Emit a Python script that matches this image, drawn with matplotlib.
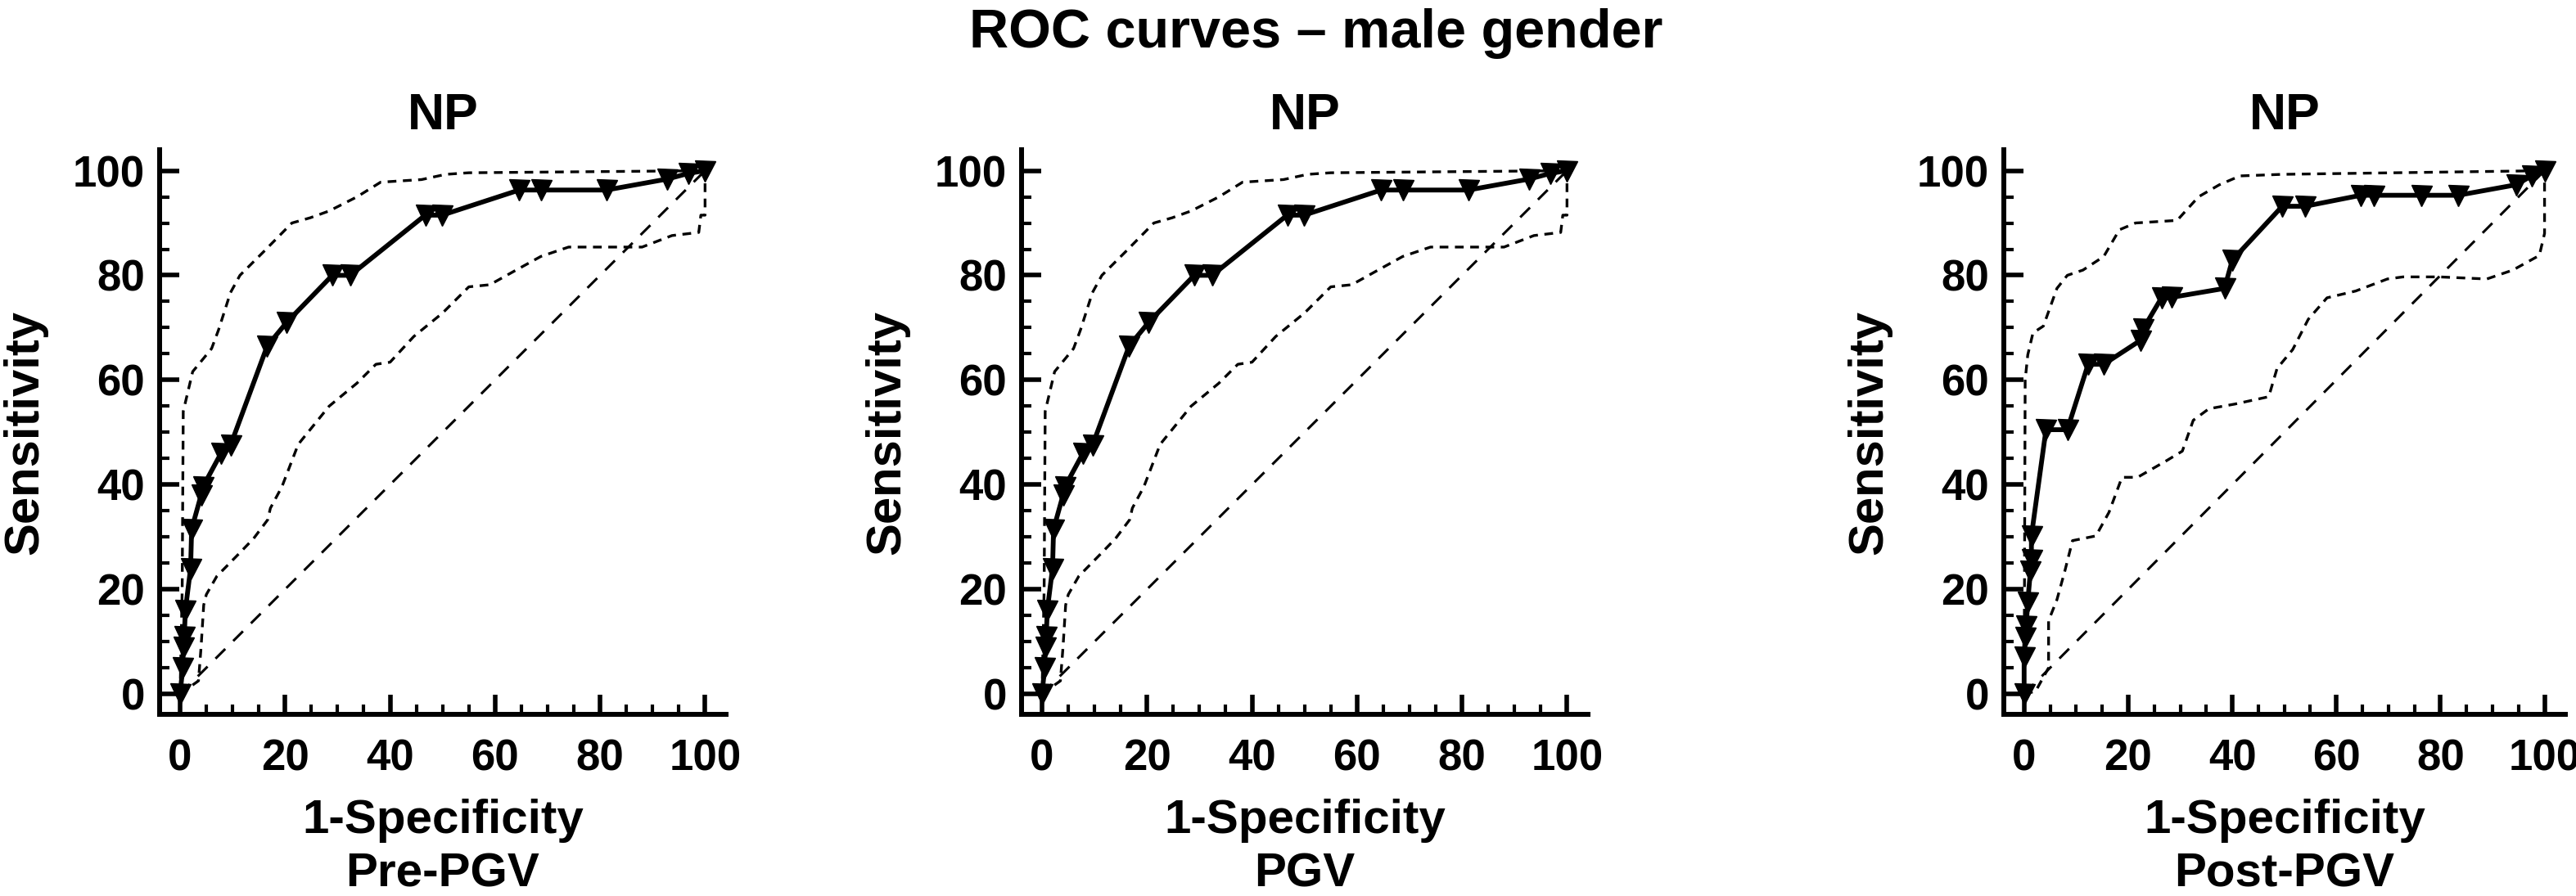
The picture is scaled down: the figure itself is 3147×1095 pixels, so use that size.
import matplotlib
matplotlib.use('Agg')
import matplotlib.pyplot as plt
from matplotlib.ticker import MultipleLocator

plt.rcParams['font.family'] = ['Liberation Sans', 'DejaVu Sans']
plt.rcParams['font.weight'] = 'bold'

# 1. 数据
# Pre-PGV 和 PGV 两个面板曲线相同
roc1_x = [0, 0.5, 0.6, 0.8, 1, 2, 2.2, 4, 4.3, 7.8, 9.6, 16.6, 20.3, 29, 32.4,
          46.7, 49.9, 64.6, 68.7, 81.2, 92.8, 96.9, 100]
roc1_y = [0, 5, 9, 11, 16, 24, 31.5, 38, 39.5, 46, 47.5, 66.5, 71, 80, 80,
          91.5, 91.5, 96.3, 96.3, 96.3, 98.4, 99.5, 100]
up1_x = [0, 0.4, 0.6, 2.4, 6, 7.3, 9.6, 11.4, 15.9, 21.3, 24.8, 28.4, 33.7,
         38.2, 46, 50.6, 55, 100]
up1_y = [0, 20, 54, 61.6, 66, 69.5, 76.7, 80, 84.5, 90, 91, 92.3, 95,
         97.8, 98.3, 99.3, 99.6, 100]
lo1_x = [0, 3.5, 4, 4.5, 5, 7, 11.4, 14, 16.7, 17.2, 19.4, 22.5, 28.4, 33.7,
         37.3, 40, 44.5, 50, 55, 59, 64, 68.7, 74, 88, 93.7, 98.8, 99.2, 100, 100]
lo1_y = [0, 2.5, 9, 17, 19, 22.5, 27, 29.7, 33.3, 35.5, 39.6, 47.7, 55, 59.4,
         63, 63.4, 68.3, 72.8, 77.8, 78.2, 81, 83.6, 85.4, 85.4, 87.6, 88.2, 91.5, 91.5, 100]

# Post-PGV
roc3_x = [0, 0, 0.2, 0.4, 0.7, 1.2, 1.4, 1.4, 4.2, 8.3, 12.3, 15.3, 22.4, 22.9,
          26.4, 28.4, 38.5, 40, 49.6, 54, 64.7, 67.2, 76.3, 83.4, 94.5, 97.5, 100]
roc3_y = [0, 7, 10.8, 13, 17.6, 23.4, 25.7, 30.2, 50.5, 50.5, 63, 63, 67.6, 69.8,
          75.7, 75.8, 77.5, 82.9, 93.2, 93.2, 95.3, 95.3, 95.3, 95.3, 97.3, 99, 100]
up3_x = [0, 0.2, 0.7, 1.7, 3.7, 6.3, 8.3, 11.3, 15.3, 18.3, 21.4, 29.4, 33.5,
         37.5, 41.5, 49.6, 100]
up3_y = [0, 60, 64.8, 69, 70.3, 77.5, 80, 81, 83.6, 88.7, 90, 90.5, 95,
         97.3, 99, 99.3, 100]
lo3_x = [0, 2.2, 4.7, 4.7, 6.3, 7.8, 9.3, 13.8, 16.3, 18.8, 21.8, 27.4, 30.4,
         32.5, 35.5, 40.5, 47, 48.6, 51.6, 54.6, 58.2, 63.7, 69.8, 72.8, 79.8,
         88.9, 93.9, 99, 100, 100]
lo3_y = [0, 0.5, 5, 14, 18, 23.4, 29.3, 30.2, 34.7, 41.4, 41.4, 44.6, 46.4,
         52.3, 54.5, 55.4, 56.8, 62.2, 65.8, 71.6, 75.7, 77, 79.3, 79.7, 79.7,
         79.3, 81, 83.8, 88, 100]

diag = [0, 100]
panel_names = ['Pre-PGV', 'PGV', 'Post-PGV']
panel_title = 'NP'
sup_title = 'ROC curves \u2013 male gender'

panels = [
    (roc1_x, roc1_y, up1_x, up1_y, lo1_x, lo1_y),
    (roc1_x, roc1_y, up1_x, up1_y, lo1_x, lo1_y),
    (roc3_x, roc3_y, up3_x, up3_y, lo3_x, lo3_y),
]

# 2. 画布和坐标轴位置 (像素 -> 比例)
W, H = 3147, 1095
fig = plt.figure(figsize=(W / 100, H / 100), dpi=100)
boxes = [(195, 692), (1248, 692), (2448, 686)]
top, bottom = 183, 873

for i, (left, width) in enumerate(boxes):
    ax = fig.add_axes([left / W, 1 - bottom / H, width / W, (bottom - top) / H])
    rx, ry, ux, uy, lx, ly = panels[i]

    ax.plot(diag, diag, color='black', lw=2.2, dashes=(5.5, 4.5))
    ax.plot(ux, uy, color='black', lw=2.4, dashes=(3.2, 2.4))
    ax.plot(lx, ly, color='black', lw=2.4, dashes=(3.2, 2.4))
    ax.plot(rx, ry, color='black', lw=4.2, marker='v', ms=18, mfc='black', mec='black')

    ax.set_xlim(-3.9, 104)
    ax.set_ylim(-3.9, 104)
    for s in ['top', 'right']:
        ax.spines[s].set_visible(False)
    for s in ['left', 'bottom']:
        ax.spines[s].set_linewidth(4.3)

    ax.xaxis.set_minor_locator(MultipleLocator(5))
    ax.yaxis.set_minor_locator(MultipleLocator(5))
    ax.set_xticks(range(0, 101, 20))
    ax.set_yticks(range(0, 101, 20))
    ax.tick_params(which='major', direction='in', length=17, width=4, labelsize=38)
    ax.tick_params(which='minor', direction='in', length=8.5, width=3)
    ax.tick_params(axis='x', which='major', pad=21)
    ax.tick_params(axis='y', which='major', pad=13)

    ax.set_xlabel('1-Specificity\n' + panel_names[i], fontsize=42, fontweight='bold',
                  labelpad=17, linespacing=1.27)
    ax.set_ylabel('Sensitivity', fontsize=43, fontweight='bold', labelpad=22)
    ax.set_title(panel_title, fontsize=45, fontweight='bold', pad=18)

fig.text(0.511, 0.963, sup_title, ha='center', va='center', fontsize=48, fontweight='bold')

fig.savefig('out.png', dpi=100)
